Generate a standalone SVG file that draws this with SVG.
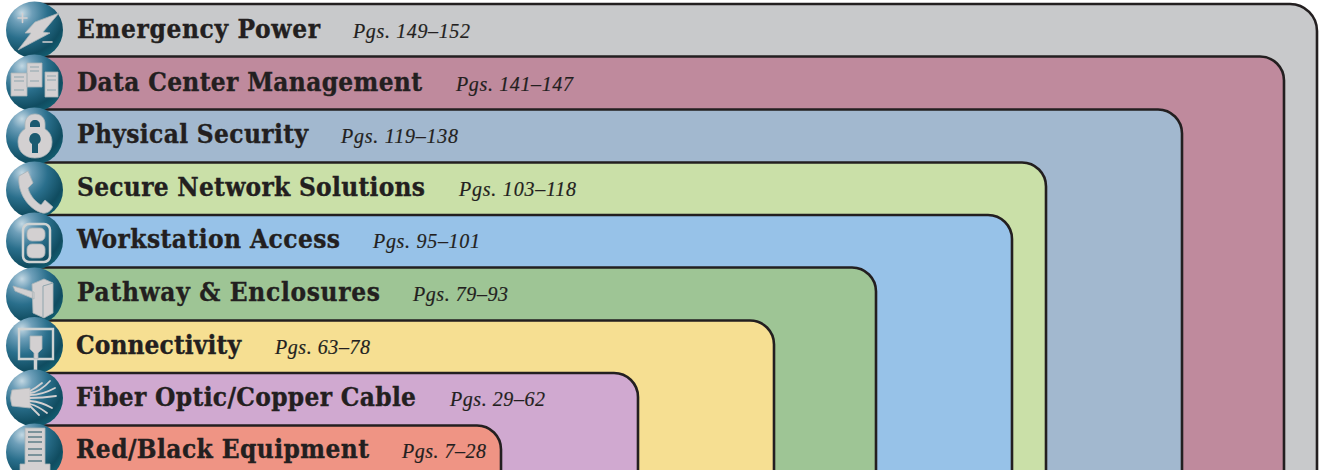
<svg xmlns="http://www.w3.org/2000/svg" width="1319" height="470" viewBox="0 0 1319 470">
<style>
.p{stroke:#231f20;stroke-width:2.6}
.t{font-family:"DejaVu Serif","Liberation Serif",serif;font-stretch:condensed;font-weight:700;font-size:26px;fill:#231f20;stroke:#231f20;stroke-width:.35}
.g{font-family:"Liberation Serif",serif;font-style:italic;font-size:20px;fill:#231f20;stroke:#231f20;stroke-width:.2}
.i{fill:#d3d0d1;stroke:#aab4b8;stroke-width:.8}
.d{fill:#1a5a70}
.n{fill:none;stroke:#d3d0d1;stroke-linecap:round}
</style>
<defs>
<radialGradient id="s" cx=".28" cy=".2" r=".9">
<stop offset="0" stop-color="#c3d8e3"/><stop offset=".2" stop-color="#6e9fb9"/><stop offset=".5" stop-color="#2a6f8c"/><stop offset=".82" stop-color="#104c60"/><stop offset="1" stop-color="#126073"/>
</radialGradient>
</defs>
<rect width="1319" height="470" fill="#fff"/>
<g id="emergency-power"><path class="p" fill="#c8c9cb" d="M35 4H1290a27 27 0 0 1 27 27V472H35Z"/></g>
<g id="data-center-management"><path class="p" fill="#bf8a9d" d="M35 56.500H1260a24 24 0 0 1 24 24V472H35Z"/></g>
<g id="physical-security"><path class="p" fill="#a2b8cf" d="M35 109.500H1158a24 24 0 0 1 24 24V472H35Z"/></g>
<g id="secure-network-solutions"><path class="p" fill="#cae0a8" d="M35 162.500H1022a24 24 0 0 1 24 24V472H35Z"/></g>
<g id="workstation-access"><path class="p" fill="#97c2e8" d="M35 215H988a24 24 0 0 1 24 24V472H35Z"/></g>
<g id="pathway-enclosures"><path class="p" fill="#9ec595" d="M35 267.500H852a24 24 0 0 1 24 24V472H35Z"/></g>
<g id="connectivity"><path class="p" fill="#f6df92" d="M35 320.500H750a24 24 0 0 1 24 24V472H35Z"/></g>
<g id="fiber-optic-copper-cable"><path class="p" fill="#d0a9d0" d="M35 373H614a24 24 0 0 1 24 24V472H35Z"/></g>
<g id="red-black-equipment"><path class="p" fill="#ef9484" d="M35 425.500H477a24 24 0 0 1 24 24V472H35Z"/></g>

<g id="labels">
<text class="t" x="77" y="38" textLength="243">Emergency Power</text><text class="g" x="353" y="38" textLength="117">Pgs. 149–152</text>
<text class="t" x="77" y="91" textLength="345">Data Center Management</text><text class="g" x="456" y="91" textLength="117">Pgs. 141–147</text>
<text class="t" x="77" y="143" textLength="231">Physical Security</text><text class="g" x="341" y="143" textLength="117">Pgs. 119–138</text>
<text class="t" x="77" y="196" textLength="348">Secure Network Solutions</text><text class="g" x="459" y="196" textLength="117">Pgs. 103–118</text>
<text class="t" x="77" y="248" textLength="263">Workstation Access</text><text class="g" x="373" y="248" textLength="107">Pgs. 95–101</text>
<text class="t" x="77" y="301" textLength="303">Pathway &amp; Enclosures</text><text class="g" x="413" y="301" textLength="95">Pgs. 79–93</text>
<text class="t" x="76" y="354" textLength="165">Connectivity</text><text class="g" x="275" y="354" textLength="95">Pgs. 63–78</text>
<text class="t" x="76" y="406" textLength="340">Fiber Optic/Copper Cable</text><text class="g" x="450" y="406" textLength="95">Pgs. 29–62</text>
<text class="t" x="76" y="458" textLength="293">Red/Black Equipment</text><text class="g" x="402" y="458" textLength="84">Pgs. 7–28</text>
</g>

<g id="icons">
<g id="icon-emergency"><circle cx="34.500" cy="30" r="28.500" fill="url(#s)"/>
<path class="i" d="M35 22 59 13 43 32 50 33 18 50 31 33 25 33Z"/><path class="n" stroke-width="1.600" d="M18 18h9M22.500 13.500v9M43 42h9"/></g>
<g id="icon-data"><circle cx="34.500" cy="83" r="28.500" fill="url(#s)"/>
<path class="i" d="M11 73h16v23H11ZM27 63h15v24H27ZM45 72h13v25H45Z"/>
<path stroke="#8fa5ad" stroke-width="1" fill="none" d="M14 77h10M14 81h10M14 90h10M30 67h9M30 71h9M30 81h9M47 76h9M47 80h9M47 90h9"/></g>
<g id="icon-security"><circle cx="34.500" cy="136" r="28.500" fill="url(#s)"/>
<path class="i" d="M35 114c6 0 10 4 10 10v5c5 3 7 8 7 13 0 10-7 16-17 16s-17-6-17-16c0-5 2-10 7-13v-5c0-6 4-10 10-10Z"/>
<path class="d" d="M35 120c3 0 5 2 5 5v2H30v-2c0-3 2-5 5-5ZM35 133a6 6 0 0 1 3 11v9h-6v-9a6 6 0 0 1 3-11Z"/></g>
<g id="icon-secure"><circle cx="34.500" cy="190" r="28.500" fill="url(#s)"/>
<path class="i" d="M19 176 28 171 33 183 28 188C30 196 36 202 41 205L45 200 53 207C50 212 46 214 42 213 28 209 17 192 19 176Z"/></g>
<g id="icon-workstation"><circle cx="34.500" cy="241" r="28.500" fill="url(#s)"/>
<rect x="23" y="224" width="27" height="38" rx="6" fill="none" stroke="#cfd3d3" stroke-width="2.500"/>
<rect class="i" x="27" y="228" width="18" height="13" rx="5"/><rect class="i" x="27" y="244" width="18" height="14" rx="5"/></g>
<g id="icon-pathway"><circle cx="34.500" cy="296" r="28.500" fill="url(#s)"/>
<path class="i" d="M13 286 34 292V299L15 291ZM32 284 44 279 53 283V313L44 318 33 313Z"/>
<path stroke="#8fa5ad" fill="none" d="M43 286V317M43 286 53 283"/></g>
<g id="icon-connectivity"><circle cx="34.500" cy="345.500" r="28.500" fill="url(#s)"/>
<path fill="none" stroke="#cfd3d3" stroke-width="2.400" d="M19 329H53V359H19Z"/>
<path class="i" d="M30 336H42V349L38 353V359H34V353L30 349Z"/><path stroke="#cfd3d3" stroke-width="3.500" d="M35.500 359V370"/></g>
<g id="icon-fiber"><circle cx="34.500" cy="398" r="28.500" fill="url(#s)"/>
<path class="i" d="M12 390 30 388V408L12 406Q9 398 12 390Z"/>
<path class="n" stroke-width="1.800" d="M30 393Q40 392 50 381M30 395Q42 395 55 388M30 398Q42 398 56 396M30 401Q42 402 52 408M30 404Q38 406 47 413M30 406Q34 410 39 415M30 391Q36 388 42 383"/></g>
<g id="icon-red"><circle cx="34.500" cy="452" r="28.500" fill="url(#s)"/>
<path class="i" d="M25 428H45V464H50V471H20V464H25Z"/><path stroke="#5f7d88" stroke-width="1.300" fill="none" d="M28 432H42M28 437H42M28 442H42M28 449H42M28 455H42M28 461H42"/></g>
</g>
<g id="connectors"/>
</svg>
